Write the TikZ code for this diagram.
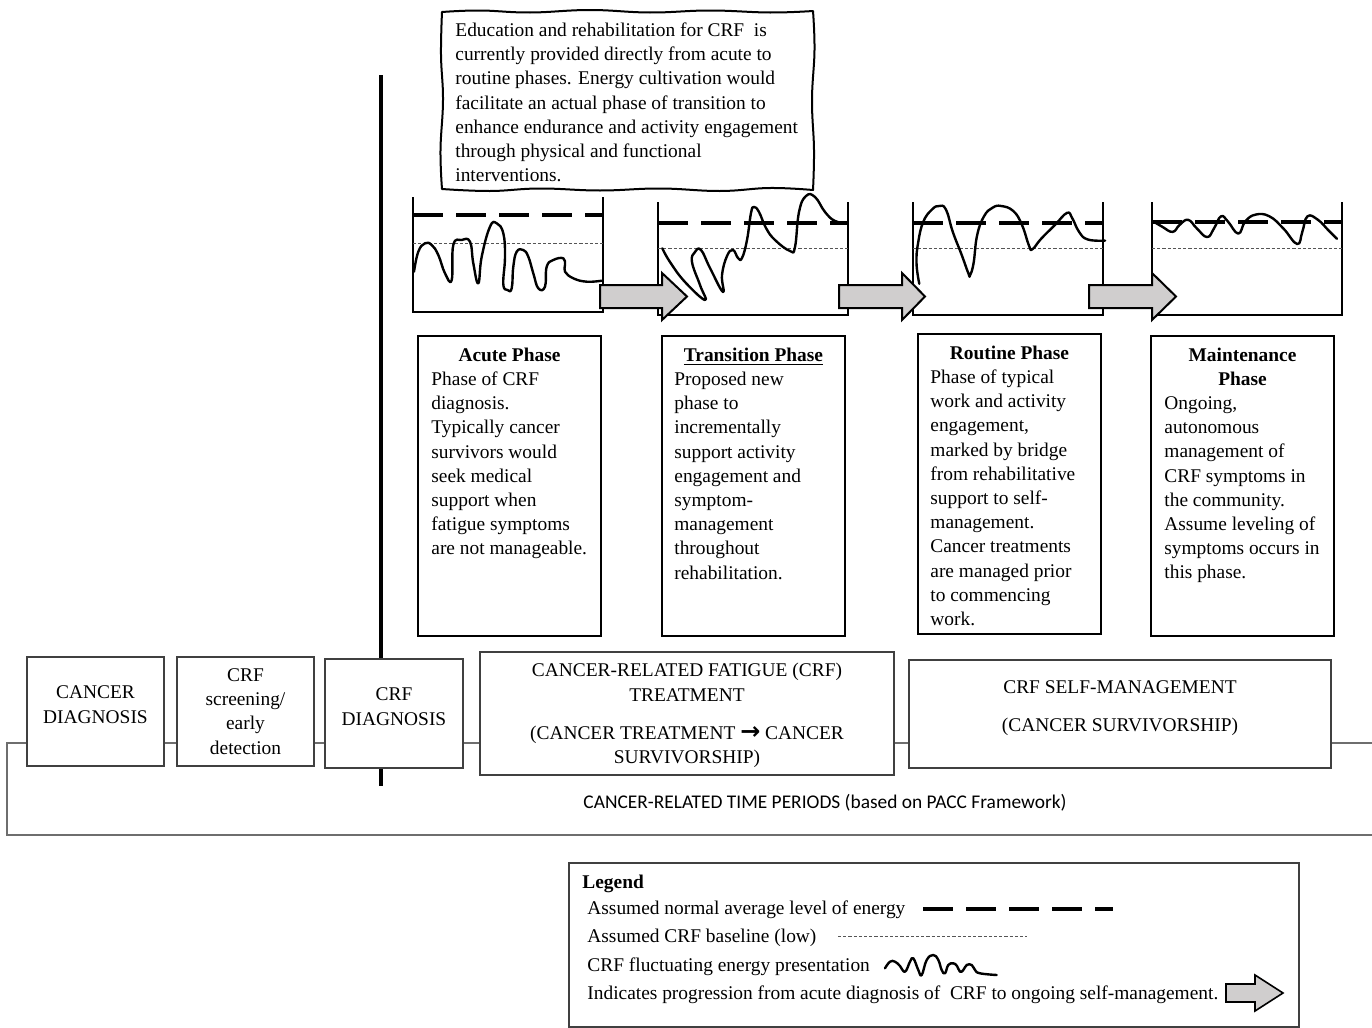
\documentclass[tikz,border=0pt]{standalone}
\usepackage{fontspec}
\setmainfont{Liberation Serif}
\newfontfamily\calibri{Carlito}
\newfontfamily\dejavu{DejaVu Sans}

\definecolor{arrowgray}{HTML}{D0CECE}
\definecolor{boxgray}{HTML}{404040}
\definecolor{framegray}{HTML}{6E6E6E}
\definecolor{dotgray}{HTML}{555555}

\newcommand{\txt}{\fontsize{9.7}{12.1}\selectfont}

\begin{document}
\begin{tikzpicture}[x=0.5pt,y=-0.5pt,
  txtnode/.style={inner sep=0pt, font=\txt},
  container/.style={line width=0.9pt, line join=miter},
  energy/.style={line width=2.2pt, dash pattern=on 15pt off 6.5pt},
  lowline/.style={line width=0.45pt, dotgray, dash pattern=on 1.6pt off 1pt},
  wave/.style={line width=1.2pt, line join=round, line cap=round},
  progarrow/.style={fill=arrowgray, draw=black, line width=1pt, line join=miter},
  phasebox/.style={draw=black, line width=0.7pt},
  periodbox/.style={draw=boxgray, line width=0.7pt, fill=white},
  callout/.style={draw=black, line width=1pt, fill=white, line join=round},
]
\useasboundingbox (0,0) rectangle (1372,1028);

% ---------- explanatory note (hand-drawn frame) ----------
\draw[callout]
  plot[smooth, tension=0.7] coordinates {(442,12) (480,10.5) (530,12.5) (590,10) (650,12.5) (710,10.5) (770,12.5) (813,11)}
  -- plot[smooth, tension=0.7] coordinates {(813,11) (814.5,50) (812,100) (814,150) (813,190)}
  -- plot[smooth, tension=0.7] coordinates {(813,190) (770,188) (720,191) (660,188.5) (600,190.5) (540,188.5) (490,191) (442,189)}
  -- plot[smooth, tension=0.7] coordinates {(442,189) (440.5,150) (443,100) (441,55) (442,12)}
  -- cycle;
\node[txtnode, anchor=north west, align=left] (note) at (455,19.1)
  {\strut Education and rehabilitation for CRF\ \ is\\
   currently provided directly from acute to\\
   routine phases. Energy cultivation would\\
   facilitate an actual phase of transition to\\
   enhance endurance and activity engagement\\
   through physical and functional\\
   interventions.};

% ---------- energy containers ----------
\draw[container] (413,197) -- (413,312) -- (603,312) -- (603,197);
\draw[container] (658,202) -- (658,315) -- (848,315) -- (848,202);
\draw[container] (913,202) -- (913,315) -- (1103,315) -- (1103,202);
\draw[container] (1152,202) -- (1152,315) -- (1342,315) -- (1342,202);

\draw[lowline] (413,243) -- (603,243);
\draw[lowline] (658,248) -- (848,248);
\draw[lowline] (913,248) -- (1103,248);
\draw[lowline] (1152,248) -- (1342,248);

\draw[energy] (413,215) -- (603,215);
\draw[energy] (658,223) -- (848,223);
\draw[energy] (913,223) -- (1103,223);
\draw[energy] (1152,222) -- (1342,222);

% progression arrows
\draw[progarrow] (600,285) -- (662,285) -- (662,273) -- (687,296.5) -- (662,320) -- (662,308) -- (600,308) -- cycle;
\draw[progarrow] (839,285) -- (902,285) -- (902,273) -- (925,296.5) -- (902,320) -- (902,308) -- (839,308) -- cycle;
\draw[progarrow] (1089,285) -- (1152,285) -- (1152,273) -- (1176,296.5) -- (1152,320) -- (1152,308) -- (1089,308) -- cycle;

% fluctuating energy curves
\draw[wave] plot[smooth, tension=0.75] coordinates {
  (414,271.7) (418.3,251.7) (425,243.3) (431.7,245) (438.3,255) (445,273.3)
  (451.7,280) (453.3,245) (461.7,240) (470,241.7) (473.3,263.3) (478.3,283.3)
  (481.7,256.7) (490,226.7) (496.7,223.3) (503.3,233.3) (505,256.7) (503.3,284)
  (507.5,290) (511.7,288.3) (513.3,266.7) (516.7,251.7) (523.3,250) (528.3,256.7)
  (533.3,273.3) (538.3,288.3) (545,286.7) (546.7,266.7) (553.3,260) (563.3,258.3)
  (565,265) (565,271.7) (573.3,278.3) (586.7,281.7) (601.7,280.7)};
\draw[wave] plot[smooth, tension=0.75] coordinates {
  (662.3,248.3) (670,262) (685,282) (705,300) (700,285) (692,262) (695,252)
  (701,250) (710,268) (723,292) (722,275) (727,256) (733,250) (738,258)
  (742,258) (747,240) (751,213) (754,207) (759,212) (766,228) (775,240)
  (790,251) (795,247) (799,212) (806,196) (815,197) (825,212) (835,221)
  (846.7,223)};
\draw[wave] plot[smooth, tension=0.75] coordinates {
  (919.3,283.8) (916.5,263) (918.2,242.3) (923.4,221.5) (932.1,209.4)
  (939,206) (945.9,209.4) (952.8,231.9) (961.5,254.4) (968.4,273.4)
  (970.1,275.2) (973.6,263) (977.1,235.4) (984,216.3) (992.6,207.7)
  (1001.3,206) (1013.4,211.1) (1022,225) (1029,245.7) (1032.4,249.2)
  (1041.1,238.8) (1054.9,225) (1067,212.9) (1072.2,218.1) (1079.1,231.9)
  (1087.8,239.5) (1105.1,240.6)};
\draw[wave] plot[smooth, tension=0.75] coordinates {
  (1153.5,221.5) (1162.2,226.7) (1172.6,231.9) (1179.5,225) (1188.1,219.8)
  (1196.8,228.4) (1207.1,237.1) (1214,228.4) (1221,216.3) (1227.9,221.5)
  (1238.3,233.6) (1245.2,221.5) (1255.6,214.6) (1269.4,216.3) (1283.3,228.4)
  (1297.1,244) (1302.3,231.9) (1307.5,216.3) (1317.9,219.8) (1328.3,230.2)
  (1336.9,238.8)};

% ---------- phase descriptions ----------
\draw[phasebox] (418,336) rectangle (601,636);
\draw[phasebox] (662,336) rectangle (845,636);
\draw[phasebox] (918,334) rectangle (1101,634);
\draw[phasebox] (1151,336) rectangle (1334,636);

\node[txtnode, anchor=north, align=center] (acuteT) at (509.5,344.1) {\strut\textbf{Acute Phase}};
\node[txtnode, anchor=north west, align=left] (acuteB) at (431,368.1)
  {\strut Phase of CRF\\ diagnosis.\\ Typically cancer\\ survivors would\\ seek medical\\
   support when\\ fatigue symptoms\\ are not manageable.};

\node[txtnode, anchor=north, align=center] (transT) at (753.5,344.1) {\strut\underline{\textbf{Transition Phase}}};
\node[txtnode, anchor=north west, align=left] (transB) at (674,368.1)
  {\strut Proposed new\\ phase to\\ incrementally\\ support activity\\ engagement and\\
   symptom-\\ management\\ throughout\\ rehabilitation.};

\node[txtnode, anchor=north, align=center] (routT) at (1009.5,342.1) {\strut\textbf{Routine Phase}};
\node[txtnode, anchor=north west, align=left] (routB) at (930,366.1)
  {\strut Phase of typical\\ work and activity\\ engagement,\\ marked by bridge\\
   from rehabilitative\\ support to self-\\ management.\\ Cancer treatments\\
   are managed prior\\ to commencing\\ work.};

\node[txtnode, anchor=north, align=center] (mainT) at (1242.5,344.1) {\strut\textbf{Maintenance}\\ \textbf{Phase}};
\node[txtnode, anchor=north west, align=left] (mainB) at (1164,392.1)
  {\strut Ongoing,\\ autonomous\\ management of\\ CRF symptoms in\\ the community.\\
   Assume leveling of\\ symptoms occurs in\\ this phase.};

% ---------- time line ----------
\draw[framegray, line width=1pt] (1380,743) -- (7,743) -- (7,835) -- (1380,835);
\draw[black, line width=1.6pt] (381,75) -- (381,786);

\draw[periodbox] (27,657) rectangle (164,766);
\draw[periodbox] (177,657) rectangle (314,766);
\draw[periodbox] (325,659) rectangle (463,768);
\draw[periodbox] (480,652) rectangle (894,775);
\draw[periodbox] (909,660) rectangle (1331,768);

\node[txtnode, anchor=north, align=center] (cdiag) at (95.5,681.6) {\strut CANCER\\ DIAGNOSIS};
\node[txtnode, anchor=north, align=center] (screen) at (245.5,664.1) {\strut CRF\\ screening/\\ early\\ detection};
\node[txtnode, anchor=north, align=center] (crfdiag) at (394,683.6) {\strut CRF\\ DIAGNOSIS};
\node[txtnode, anchor=north, align=center] (treat) at (687,659.6)
  {\strut CANCER-RELATED FATIGUE (CRF)\\ TREATMENT\\[6.9pt] (CANCER TREATMENT {\dejavu\bfseries\fontsize{12}{12}\selectfont →} CANCER\\ SURVIVORSHIP)};
\node[txtnode, anchor=north, align=center] (selfm) at (1120,676.6)
  {\strut CRF SELF-MANAGEMENT\\[6.9pt] (CANCER SURVIVORSHIP)};
\node[txtnode, anchor=base] (periods) at (825,808.5)
  {\calibri CANCER-RELATED TIME PERIODS (based on PACC Framework)};

% ---------- legend ----------
\draw[boxgray, line width=0.7pt] (569,863) rectangle (1299,1027);
\node[txtnode, anchor=base west] (legT) at (582,888) {\textbf{Legend}};
\node[txtnode, anchor=base west] (leg1) at (587,914) {Assumed normal average level of energy};
\node[txtnode, anchor=base west] (leg2) at (587,942) {Assumed CRF baseline (low)};
\node[txtnode, anchor=base west] (leg3) at (587,971) {CRF fluctuating energy presentation};
\node[txtnode, anchor=base west] (leg4) at (587,999) {Indicates progression from acute diagnosis of\ \ CRF to ongoing self-management.};

\draw[energy] (923,909) -- (1113,909);
\draw[lowline] (838,936) -- (1027,936);
\draw[wave] plot[smooth, tension=0.75] coordinates {
  (885,968.3) (890,961.7) (895,961.7) (900,966) (905,971.7) (910,961.7)
  (913.3,958.3) (918.3,970) (921.7,975) (926.7,960) (933.3,955) (938.3,960)
  (941.7,970) (945,973.3) (948.3,965) (953.3,963.3) (957,966) (960,971.7)
  (963.3,970) (966.7,965) (971.7,965) (975,970) (980,973.3) (996.7,975)};
\draw[progarrow, line width=0.8pt] (1226,984) -- (1255,984) -- (1255,975) -- (1283,993) -- (1255,1011) -- (1255,1002) -- (1226,1002) -- cycle;

\end{tikzpicture}
\end{document}
